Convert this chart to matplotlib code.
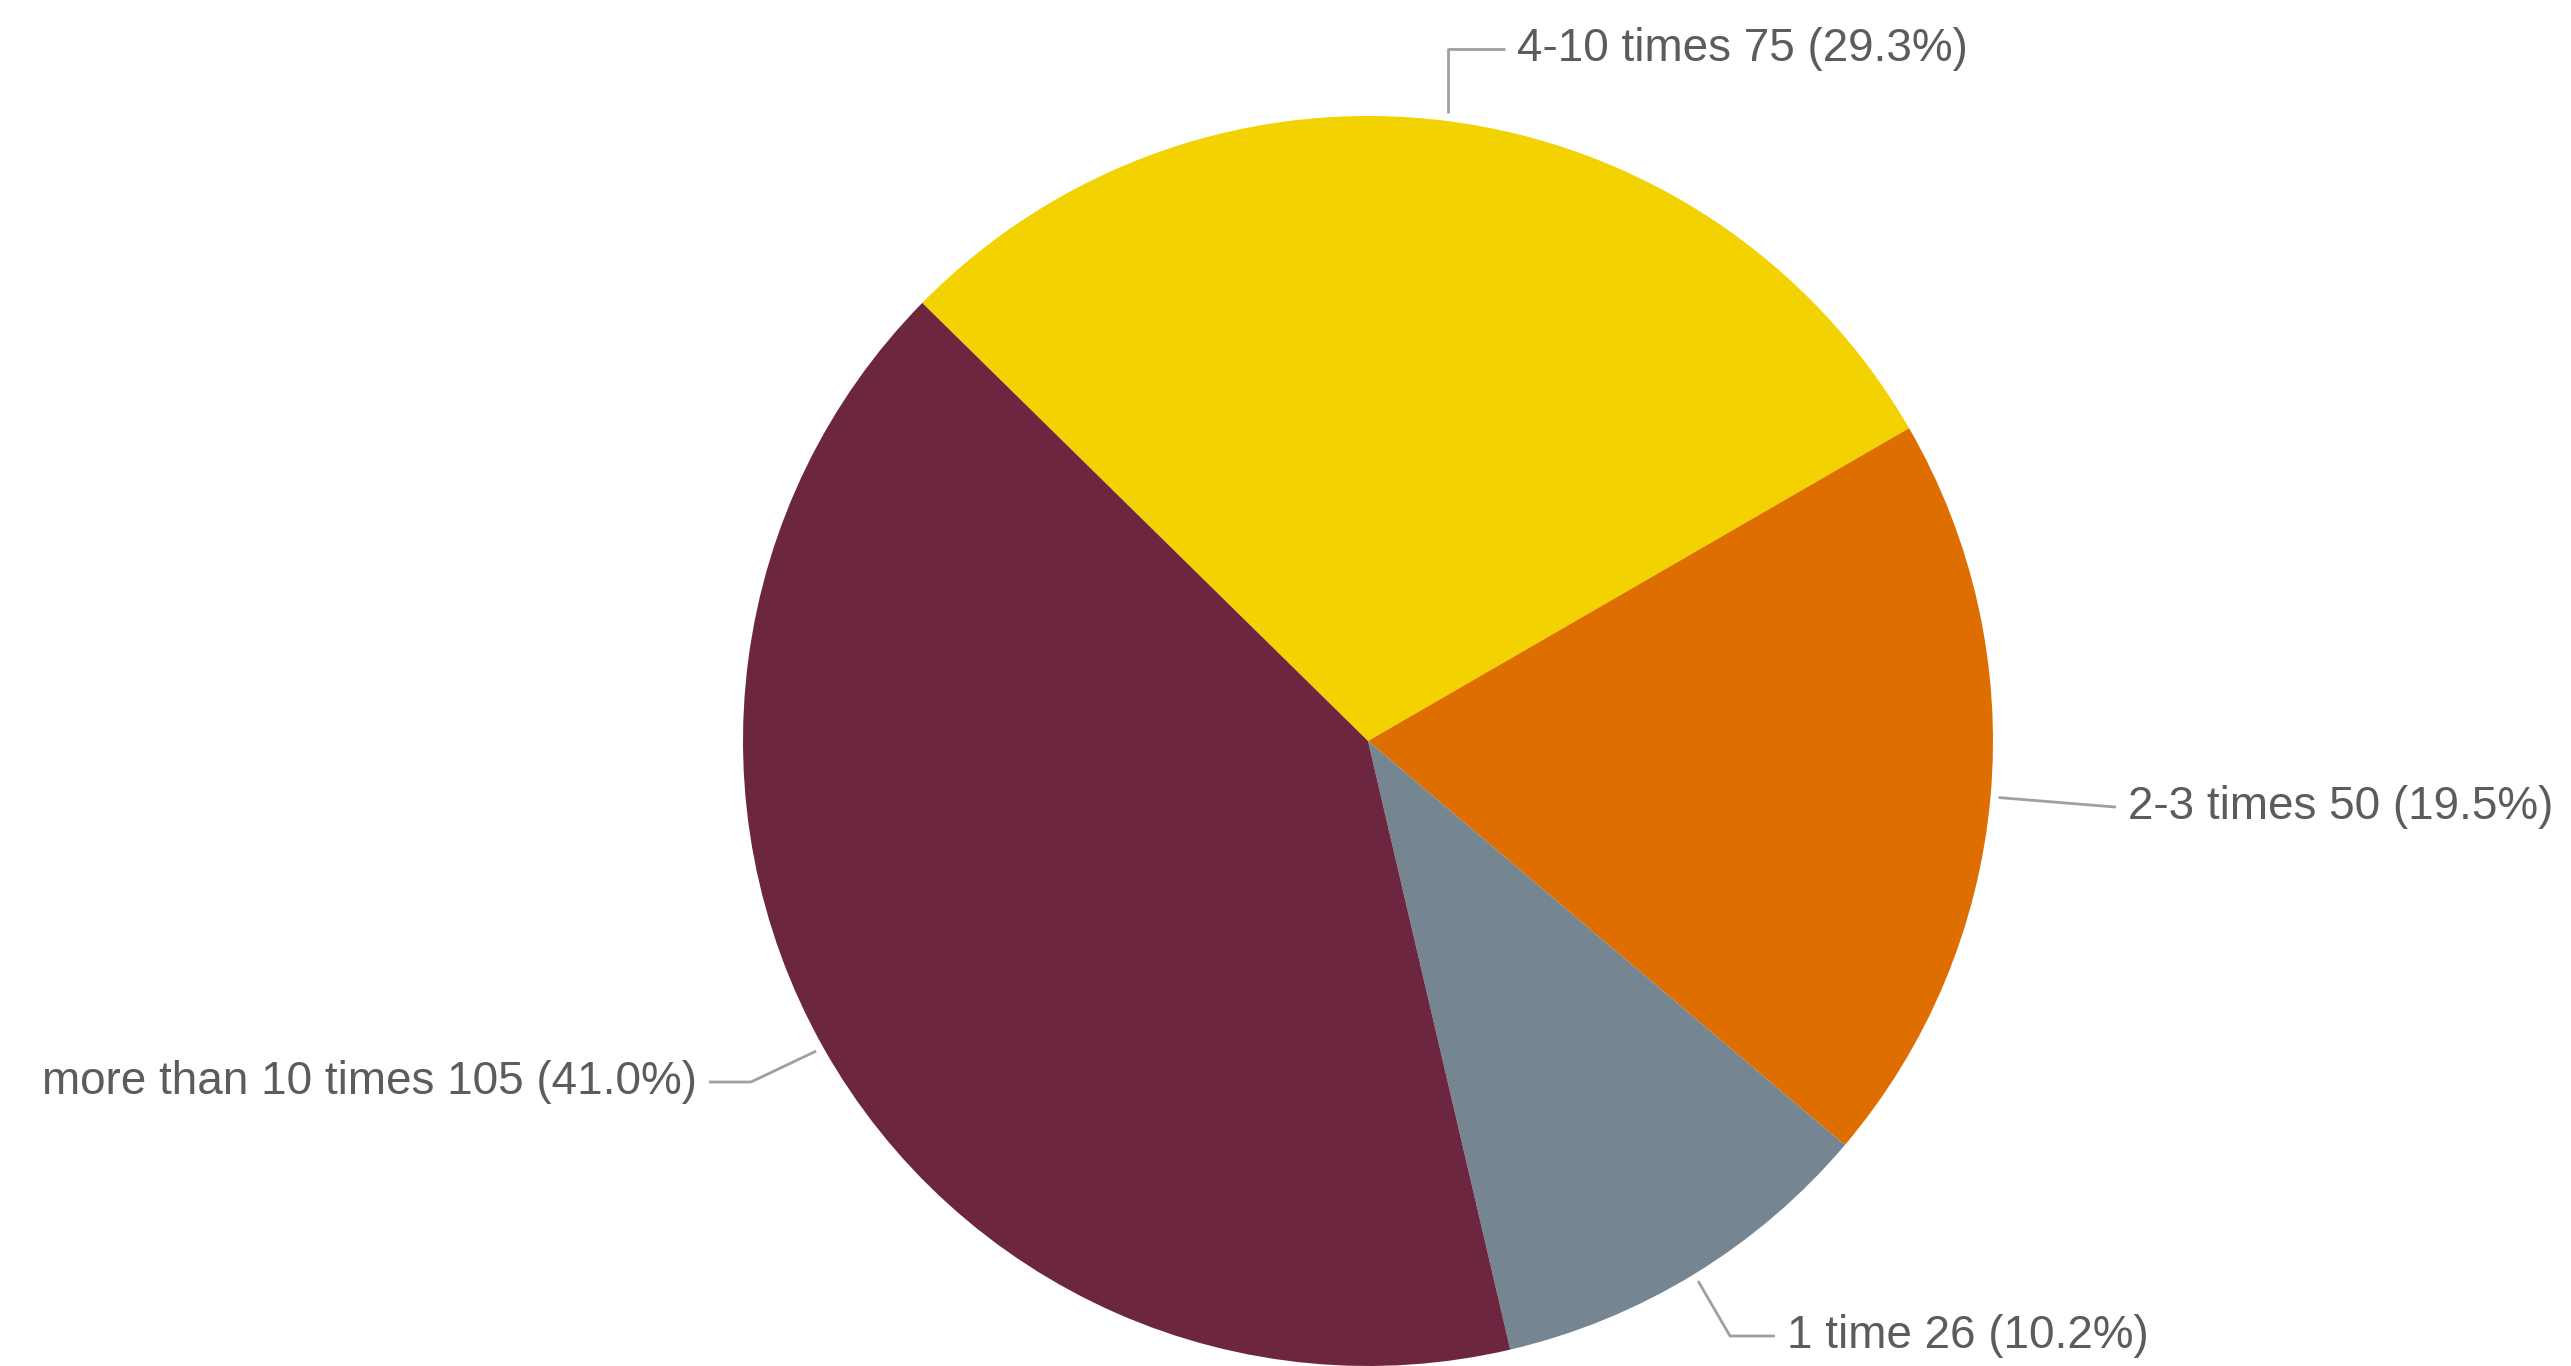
import numpy as np
import matplotlib
matplotlib.use('Agg')
from matplotlib import pyplot as plt

labels = ['4-10 times', '2-3 times', '1 time', 'more than 10 times']
counts = [75, 50, 26, 105]
colors = ['#F2D200', '#DE6E00', '#758592', '#6D263F']

W, H = 2571, 1366
cx, cy, r = 1368, 741, 625   # pixel layout, y from top

# label layout: text anchor (x, y from top), alignment, elbow x
txt_pos = [(1517, 49), (2128, 807), (1787, 1336), (697, 1082)]
txt_ha = ['left', 'left', 'left', 'right']
elbow_x = [None, 2115, 1730, 751]

fig = plt.figure(figsize=(W / 100, H / 100), dpi=100)
ax = fig.add_axes([0, 0, 1, 1])
wedges, _ = ax.pie(counts, colors=colors, startangle=135.5, counterclock=False,
                   radius=r, center=(cx, H - cy),
                   wedgeprops=dict(linewidth=0, antialiased=True))
ax.set_xlim(0, W)
ax.set_ylim(0, H)
ax.set_aspect('equal')
ax.axis('off')

total = sum(counts)
for i, w in enumerate(wedges):
    mid = np.deg2rad((w.theta1 + w.theta2) / 2)
    px = cx + (r + 8) * np.cos(mid)
    py = H - cy + (r + 8) * np.sin(mid)
    tx, ty = txt_pos[i]
    ty = H - ty
    gap = 12 if txt_ha[i] == 'left' else -12
    ex = px if elbow_x[i] is None else elbow_x[i]
    ax.plot([px, ex, tx - gap], [py, ty, ty], color='#a0a0a0', lw=2,
            solid_capstyle='butt')
    s = '%s %d (%.1f%%)' % (labels[i], counts[i], 100.0 * counts[i] / total)
    ax.text(tx, ty, s, ha=txt_ha[i], va='center', fontsize=33,
            family=['Liberation Sans', 'DejaVu Sans'], color='#5c5c5c')

fig.savefig('out.png', dpi=100, facecolor='white')
